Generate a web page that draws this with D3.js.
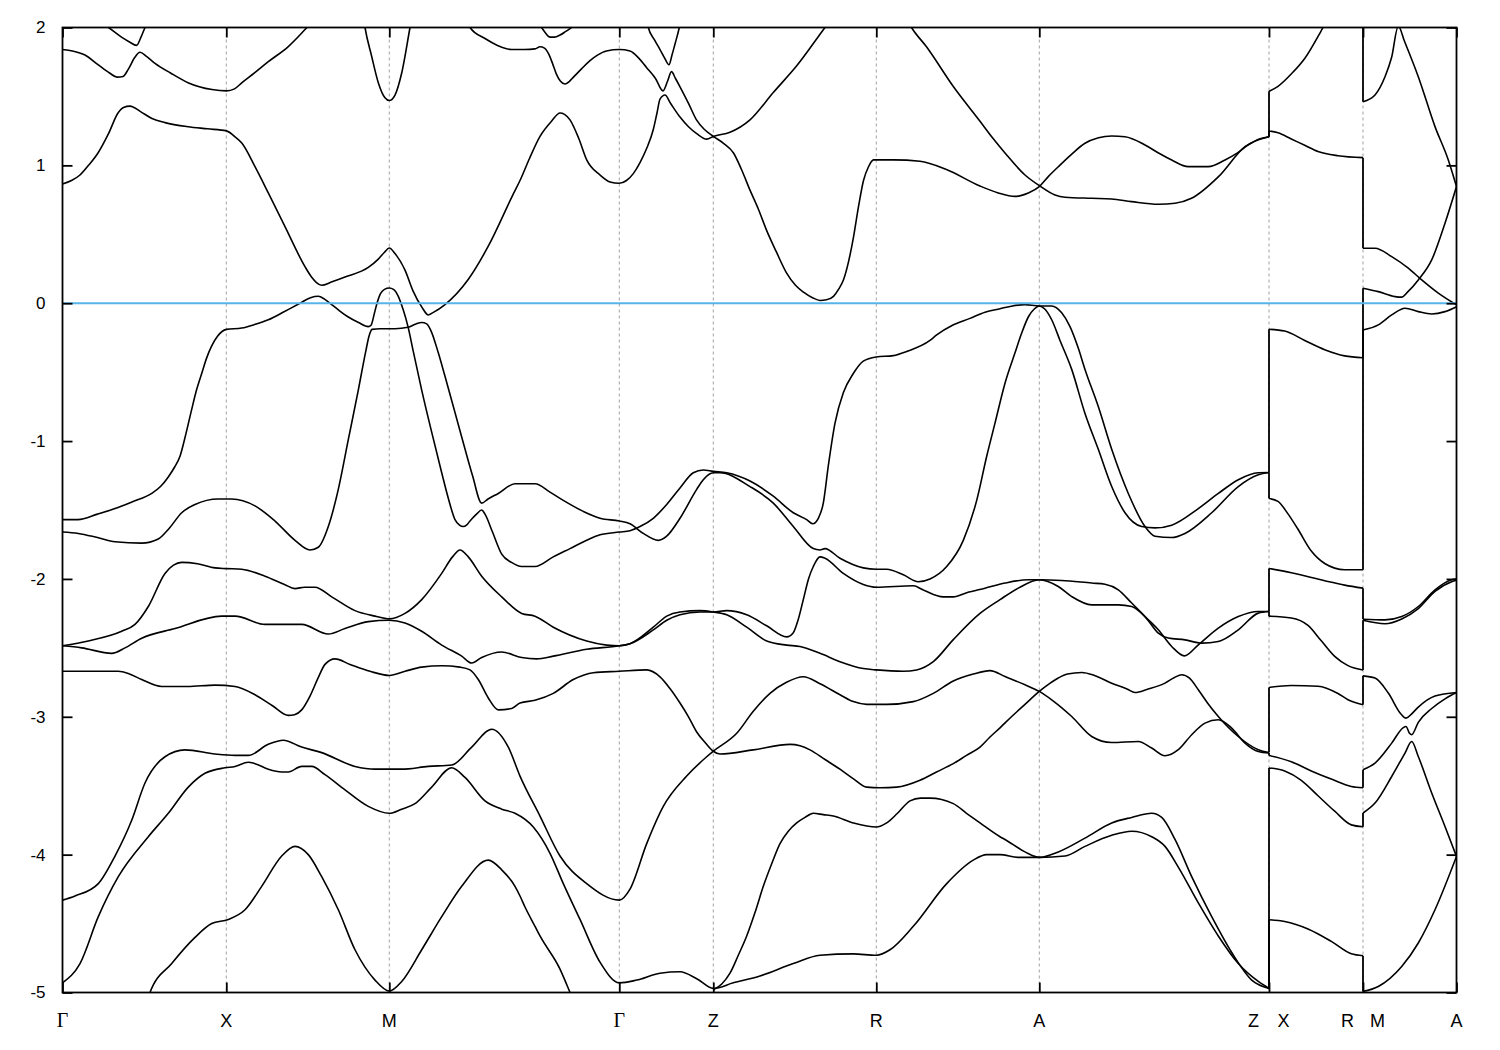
<!DOCTYPE html>
<html><head><meta charset="utf-8">
<script src="https://cdnjs.cloudflare.com/ajax/libs/d3/7.8.5/d3.min.js"></script>
<style>body{margin:0;background:#fff;} svg{display:block;}</style>
</head><body>
<svg id="chart" width="1500" height="1050"></svg>
<script>
// ---------- axis data ----------
const kTicks = [0, 163.8, 326.8, 556.8, 650.8, 813.8, 976.8, 1206.5, 1300.5, 1394];
const tickLabels = ["Γ", "X", "M", "Γ", "Z", "R", "A", "Z|X", "R|M", "A"];
const yTicks = [2, 1, 0, -1, -2, -3, -4, -5];
const eMin = -5, eMax = 2;
const fermiLevel = 0;
const breaks = [1206.5, 1300.5];

// ---------- bands, segment Γ-X-M-Γ-Z-R-A-Z ----------
const bT1 = [[30,2.08],[46,2.0],[59,1.93],[67,1.895],[74,1.87],[78.5,1.93],[82.5,2.0],[86,2.06]];
const bT2 = [[0,1.84],[10,1.83],[22.5,1.80],[35.5,1.73],[47,1.67],[54.5,1.64],[60.5,1.645],[66,1.70],[72,1.78],[77.5,1.82],[84,1.79],[92.5,1.74],[108,1.67],[125.5,1.60],[149.5,1.55],[164,1.54],[172,1.555],[179.5,1.60],[192,1.67],[205.5,1.75],[225.5,1.86],[244.5,2.0],[258,2.1]];
const bT3 = [[0,0.865],[9,0.89],[17.5,0.93],[26,1.0],[35.5,1.09],[46,1.23],[55.5,1.38],[61,1.42],[67.5,1.43],[78,1.39],[89.5,1.34],[102.5,1.31],[125.5,1.28],[145,1.265],[164,1.25],[172,1.21],[179.5,1.16],[192.5,0.99],[205.8,0.80],[222.5,0.555],[242.5,0.265],[249,0.19],[254,0.15],[259,0.13],[269.5,0.155],[282.5,0.19],[305.8,0.26],[315.8,0.32],[322,0.37],[326.8,0.40],[332.5,0.36],[342.5,0.24],[350.5,0.09],[359.5,-0.03],[365.8,-0.085],[370,-0.07],[382.5,-0.01],[405.5,0.17],[425.5,0.41],[450,0.78],[457.5,0.89],[467,1.05],[477.5,1.21],[489,1.32],[497.5,1.38],[502,1.37],[507.5,1.33],[516,1.20],[524.2,1.04],[537.5,0.93],[547.5,0.88],[556.8,0.87],[564,0.89],[570.8,0.94],[577.5,1.02],[584,1.12],[590.8,1.26],[594.5,1.38],[597.5,1.48],[602.5,1.51],[608,1.45],[617.5,1.35],[626,1.28],[634.2,1.23],[644.2,1.19],[650.8,1.21],[667.5,1.24],[687.5,1.33],[711,1.53],[734,1.72],[762.5,2.0],[775,2.12]];
const bQ = [[400,2.12],[407.5,2.0],[422.5,1.92],[435,1.87],[449,1.84],[462,1.84],[472.5,1.845],[477.5,1.86],[482,1.85],[486,1.81],[490,1.74],[494,1.66],[498,1.61],[502.5,1.59],[507,1.61],[511,1.64],[519,1.70],[527.5,1.76],[535,1.80],[544,1.83],[556.8,1.84],[567.5,1.83],[576,1.78],[584,1.71],[593,1.63],[600.5,1.54],[605,1.61],[609,1.68],[613,1.63],[617.5,1.57],[626,1.45],[634,1.33],[642,1.26],[650.8,1.21],[661,1.16],[671,1.09],[679,0.97],[687.5,0.82],[696,0.68],[704,0.53],[714,0.37],[724,0.22],[733,0.13],[741,0.08],[750,0.04],[757.5,0.02],[764,0.025],[771,0.05],[776,0.10],[781,0.17],[786,0.30],[791,0.48],[796,0.70],[801,0.89],[806,0.99],[811,1.04],[831,1.04],[857.5,1.03],[884,0.97],[917.5,0.85],[935.8,0.80],[952.5,0.775],[965.8,0.80],[976.8,0.846],[986,0.92],[995.8,0.99],[1009,1.08],[1022.5,1.16],[1036,1.20],[1049.2,1.213],[1062.5,1.208],[1082.5,1.148],[1096,1.09],[1109.2,1.039],[1125.8,0.991],[1145.8,0.991],[1162.5,1.039],[1175,1.09],[1185.8,1.148],[1196,1.19],[1206.5,1.208]];
const bP = [[583,2.1],[585.8,2.0],[592,1.91],[597.5,1.84],[602,1.78],[606.5,1.73],[609.5,1.80],[612.5,1.88],[616.8,2.0],[619,2.08]];
const bTop2 = [[474,2.04],[479,2.0],[483,1.96],[487.5,1.93],[492,1.93],[497.5,1.945],[503,1.97],[509,2.0],[514,2.04]];
const bMtop = [[300,2.12],[302.5,2.0],[309.2,1.79],[315.8,1.60],[322.5,1.49],[326.8,1.47],[332.5,1.51],[339.2,1.67],[347.5,2.0],[350,2.1]];
const bTR = [[840,2.12],[849,2.0],[864,1.86],[891,1.57],[917.5,1.32],[930,1.20],[942.5,1.09],[962.5,0.93],[976.8,0.853],[992.5,0.785],[1002.5,0.769],[1029,0.761],[1049,0.756],[1069,0.737],[1096,0.718],[1112.5,0.725],[1129,0.761],[1156,0.918],[1182.5,1.136],[1206.5,1.208]];
const bV1 = [[0,-1.57],[15.5,-1.57],[35,-1.53],[52.5,-1.49],[70,-1.44],[89.2,-1.38],[98,-1.33],[105.8,-1.26],[112,-1.19],[117.5,-1.11],[123,-0.96],[129.2,-0.77],[134,-0.63],[139.2,-0.51],[144,-0.40],[149.2,-0.31],[155,-0.24],[163.8,-0.19],[179.2,-0.18],[192,-0.155],[205.8,-0.12],[222,-0.06],[237.5,0.0],[248,0.04],[255.8,0.05],[262,0.03],[269.2,-0.01],[277,-0.055],[285.8,-0.10],[296,-0.14],[305.8,-0.17],[308.5,-0.16],[312,-0.07],[314.5,0.0],[318,0.07],[322,0.10],[326.8,0.11],[331,0.10],[335.8,0.05],[340.8,-0.05],[345.5,-0.17],[350.5,-0.34],[359.2,-0.63],[369,-0.93],[379.2,-1.23],[386,-1.42],[392.5,-1.57],[397,-1.61],[400.8,-1.62],[404,-1.61],[407.5,-1.58],[414,-1.53],[419.2,-1.50],[422.5,-1.53],[430,-1.66],[439.2,-1.82],[449,-1.88],[459.2,-1.91],[472.5,-1.91],[490.8,-1.84],[507.5,-1.78],[524.2,-1.72],[537.5,-1.68],[556.8,-1.66],[567.5,-1.65],[577.5,-1.62],[590.8,-1.56],[604.2,-1.46],[617.5,-1.34],[630.8,-1.23],[640.8,-1.21],[650.8,-1.22],[664.2,-1.23],[687.5,-1.29],[710.8,-1.40],[730.8,-1.52],[744.2,-1.57],[750.2,-1.60],[755.8,-1.56],[760.8,-1.45],[765.8,-1.18],[772.5,-0.87],[780.8,-0.65],[790.8,-0.51],[800.8,-0.42],[813.8,-0.39],[830.8,-0.38],[844.2,-0.35],[867.5,-0.27],[874.2,-0.23],[890,-0.16],[907.5,-0.11],[922.5,-0.065],[937.5,-0.04],[950,-0.02],[962.5,-0.01],[976.8,-0.02],[989.2,-0.02],[999.2,-0.07],[1007.5,-0.17],[1015.5,-0.32],[1022.5,-0.48],[1035.8,-0.75],[1049.2,-1.06],[1065.8,-1.38],[1082.5,-1.62],[1092.5,-1.69],[1109.2,-1.70],[1122.5,-1.67],[1149.2,-1.52],[1175.8,-1.33],[1195.8,-1.245],[1206.5,-1.228]];
const bVb = [[0,-1.66],[15.8,-1.67],[35,-1.70],[52.5,-1.73],[79.2,-1.74],[95.8,-1.71],[107,-1.63],[119.2,-1.52],[132.5,-1.46],[155.8,-1.42],[169.2,-1.42],[192.5,-1.47],[212.5,-1.58],[232.5,-1.72],[247.5,-1.79],[255.8,-1.77],[265.8,-1.62],[275.8,-1.35],[285.8,-0.99],[295.8,-0.63],[303.5,-0.34],[306.5,-0.24],[309.5,-0.19],[317.5,-0.185],[332.5,-0.185],[345.5,-0.175],[353.5,-0.15],[359.2,-0.14],[364.2,-0.15],[368.5,-0.20],[375.8,-0.36],[382.5,-0.53],[399.2,-0.97],[410,-1.25],[419.2,-1.45],[425.5,-1.42],[435.8,-1.38],[452.5,-1.31],[472.5,-1.31],[487.5,-1.37],[500.8,-1.43],[520.8,-1.51],[537.5,-1.56],[556.8,-1.58],[567.5,-1.60],[580.8,-1.67],[595.8,-1.72],[604.2,-1.69],[617.5,-1.56],[634.2,-1.35],[640.8,-1.28],[650.8,-1.23],[657.5,-1.23],[687.5,-1.33],[710.8,-1.45],[730.8,-1.62],[750.8,-1.78],[757.5,-1.79],[762.5,-1.78],[777.5,-1.85],[800.8,-1.92],[813.8,-1.93],[824.2,-1.93],[840.8,-1.97],[855.8,-2.02],[867.5,-2.00],[884.2,-1.91],[900.8,-1.72],[914.2,-1.43],[924.2,-1.11],[932.5,-0.87],[942.5,-0.58],[952.5,-0.36],[959,-0.22],[965.8,-0.10],[972,-0.04],[976.8,-0.02],[982,-0.04],[989.2,-0.12],[997.5,-0.27],[1009.2,-0.48],[1022.5,-0.80],[1035.8,-1.06],[1049.2,-1.33],[1062.5,-1.52],[1079.2,-1.62],[1092.5,-1.63],[1109.2,-1.61],[1135.8,-1.49],[1155.8,-1.38],[1175.8,-1.28],[1195.8,-1.23],[1206.5,-1.228]];
const bC = [[0,-2.485],[25.8,-2.45],[59.2,-2.38],[72.5,-2.33],[85.8,-2.20],[102.5,-1.96],[111,-1.90],[119.2,-1.88],[135,-1.89],[152.5,-1.92],[163.8,-1.925],[179.2,-1.93],[202.5,-1.98],[222,-2.04],[232.5,-2.07],[242,-2.06],[252.5,-2.06],[269.2,-2.13],[292.5,-2.23],[312.5,-2.27],[326.8,-2.29],[342.5,-2.25],[359.2,-2.15],[379.2,-1.96],[390,-1.84],[397.5,-1.79],[405.8,-1.84],[419.2,-1.98],[439.2,-2.13],[459.2,-2.25],[472.5,-2.27],[490.8,-2.35],[524.2,-2.45],[544.2,-2.48],[556.8,-2.485],[567.5,-2.47],[590.8,-2.37],[604.2,-2.30],[617.5,-2.26],[637.5,-2.24],[650.8,-2.24],[664.2,-2.23],[684.2,-2.26],[704.2,-2.34],[724.2,-2.42],[730.8,-2.39],[735.5,-2.30],[740.8,-2.15],[746,-2.00],[750.8,-1.91],[757.5,-1.84],[762.5,-1.85],[780.8,-1.96],[800.8,-2.04],[813.8,-2.06],[850.8,-2.05],[860.8,-2.08],[880.8,-2.13],[890.8,-2.13],[904.2,-2.10],[922.5,-2.067],[942.5,-2.03],[965.8,-2.006],[976.8,-2.006],[999.2,-2.011],[1029.2,-2.03],[1042.5,-2.038],[1055.8,-2.079],[1069.2,-2.175],[1082.5,-2.273],[1095.8,-2.369],[1109.2,-2.49],[1121.8,-2.558],[1135.8,-2.478],[1155.8,-2.357],[1175.8,-2.273],[1195.8,-2.236],[1206.5,-2.236]];
const bD = [[0,-2.485],[19.2,-2.50],[49.2,-2.54],[62.5,-2.50],[79.2,-2.43],[112.5,-2.36],[159.2,-2.27],[172.5,-2.27],[202.5,-2.33],[239.2,-2.33],[265.8,-2.40],[282.5,-2.36],[305.8,-2.31],[326.8,-2.30],[342.5,-2.32],[359.2,-2.38],[379.2,-2.48],[399.2,-2.56],[409.2,-2.61],[419.2,-2.57],[439.2,-2.53],[459.2,-2.57],[474.2,-2.58],[490.8,-2.56],[524.2,-2.51],[556.8,-2.485],[567.5,-2.47],[590.8,-2.35],[604.2,-2.27],[617.5,-2.24],[637.5,-2.23],[650.8,-2.24],[664.2,-2.26],[684.2,-2.35],[704.2,-2.45],[724.2,-2.48],[737.5,-2.49],[757.5,-2.54],[777.5,-2.60],[800.8,-2.65],[813.8,-2.66],[840.8,-2.67],[854.2,-2.66],[870.8,-2.60],[890.8,-2.44],[917.5,-2.25],[937.5,-2.15],[955.8,-2.067],[976.8,-2.006],[995.8,-2.055],[1009.2,-2.128],[1029.2,-2.188],[1055.8,-2.188],[1069.2,-2.20],[1082.5,-2.273],[1095.8,-2.393],[1105.8,-2.429],[1122.5,-2.442],[1139.2,-2.466],[1155.8,-2.454],[1175.8,-2.369],[1195.8,-2.248],[1206.5,-2.236]];
const bE = [[0,-2.67],[55.8,-2.67],[67,-2.69],[79.2,-2.73],[99.2,-2.78],[125,-2.78],[152.5,-2.77],[172.5,-2.78],[192.5,-2.84],[210,-2.92],[225.8,-2.99],[232,-2.985],[239.2,-2.95],[247.5,-2.85],[255.5,-2.72],[262.5,-2.62],[272.5,-2.58],[287.5,-2.62],[307.5,-2.67],[326.8,-2.70],[342.5,-2.67],[359.2,-2.64],[379.2,-2.63],[397.5,-2.64],[407.5,-2.66],[415.8,-2.73],[425.5,-2.86],[435.8,-2.95],[449.2,-2.94],[457.5,-2.90],[472.5,-2.88],[490.8,-2.83],[510.8,-2.73],[530.8,-2.68],[556.8,-2.67],[584.2,-2.66],[597.5,-2.71],[608,-2.80],[617.5,-2.90],[626,-3.00],[634.2,-3.11],[643,-3.19],[650.8,-3.25],[657.5,-3.27],[690.8,-3.24],[727.5,-3.20],[737.5,-3.21],[747.5,-3.24],[762.5,-3.31],[777.5,-3.38],[791,-3.45],[804.2,-3.51],[817.5,-3.515],[834.2,-3.51],[857.5,-3.46],[874,-3.40],[890.8,-3.34],[904,-3.28],[917.5,-3.22],[927,-3.15],[937.5,-3.08],[949.2,-2.998],[962.5,-2.91],[976.8,-2.816],[987,-2.76],[995.8,-2.719],[1005,-2.69],[1019.2,-2.679],[1032,-2.70],[1049.2,-2.756],[1065,-2.80],[1072.5,-2.824],[1085,-2.80],[1102.5,-2.756],[1112,-2.715],[1119.2,-2.695],[1127,-2.72],[1135.8,-2.804],[1145,-2.90],[1155.8,-2.998],[1175.8,-3.143],[1195.8,-3.239],[1206.5,-3.259]];
const bF = [[0,-4.33],[12.5,-4.30],[35.8,-4.21],[52.5,-4.01],[69.2,-3.75],[82.5,-3.48],[102.5,-3.29],[122.5,-3.24],[152.5,-3.27],[172.5,-3.28],[185.8,-3.28],[205.8,-3.20],[220.8,-3.17],[239.2,-3.22],[259.2,-3.26],[292.5,-3.36],[312.5,-3.38],[339.2,-3.38],[365.8,-3.36],[389.2,-3.35],[409.2,-3.22],[429.2,-3.09],[445.8,-3.22],[457.5,-3.43],[477.5,-3.72],[497.5,-4.01],[524.2,-4.21],[556.8,-4.33],[567.5,-4.25],[584.2,-3.92],[600.8,-3.65],[624.2,-3.43],[644.2,-3.29],[650.8,-3.25],[674.2,-3.12],[690.8,-2.96],[707.5,-2.83],[724,-2.75],[740.8,-2.71],[757.5,-2.76],[777.5,-2.84],[790.8,-2.89],[804.2,-2.91],[824.2,-2.91],[850.8,-2.89],[870.8,-2.83],[890.8,-2.74],[910.8,-2.69],[927.5,-2.665],[942.5,-2.708],[962.5,-2.768],[976.8,-2.816],[989.2,-2.877],[1009.2,-2.998],[1029.2,-3.143],[1049.2,-3.187],[1075.8,-3.179],[1089.2,-3.227],[1102.5,-3.283],[1115.8,-3.239],[1129.2,-3.130],[1142.5,-3.046],[1155.8,-3.022],[1169.2,-3.082],[1182.5,-3.191],[1195.8,-3.252],[1206.5,-3.263]];
const bG = [[0,-4.93],[17.5,-4.79],[35.8,-4.45],[55.8,-4.16],[85.8,-3.87],[105.8,-3.70],[125.8,-3.51],[142.5,-3.41],[162.5,-3.37],[172.5,-3.36],[185.8,-3.33],[192.5,-3.34],[205.8,-3.38],[219.2,-3.40],[225.8,-3.40],[239.2,-3.36],[249.2,-3.36],[262.5,-3.42],[282.5,-3.53],[305.8,-3.65],[326.8,-3.70],[339.2,-3.67],[352.5,-3.63],[369.2,-3.51],[389.2,-3.37],[402.5,-3.44],[422.5,-3.61],[439.2,-3.67],[452.5,-3.70],[470.8,-3.80],[487.5,-3.99],[500.8,-4.21],[517.5,-4.47],[537.5,-4.78],[556.8,-4.93],[574.2,-4.91],[597.5,-4.86],[617.5,-4.85],[634.2,-4.90],[650.8,-4.97],[670.8,-4.93],[697.5,-4.88],[730.8,-4.79],[757.5,-4.73],[790.8,-4.72],[813.8,-4.73],[827.5,-4.69],[850.8,-4.52],[884.2,-4.21],[910.8,-4.04],[924.2,-4.00],[937.5,-4.00],[955.8,-4.02],[976.8,-4.02],[1002.5,-4.01],[1022.5,-3.94],[1049.2,-3.86],[1069.2,-3.83],[1089.2,-3.87],[1102.5,-3.94],[1115.8,-4.09],[1135.8,-4.35],[1155.8,-4.59],[1175.8,-4.79],[1195.8,-4.92],[1206.5,-4.97]];
const bSteep = [[650.8,-4.98],[659,-4.94],[667.5,-4.86],[675.8,-4.73],[684.2,-4.59],[692.5,-4.42],[700.8,-4.23],[709,-4.07],[717.5,-3.92],[725.8,-3.83],[734.2,-3.77],[742.5,-3.73],[750.8,-3.70],[760.8,-3.71],[770.8,-3.72],[790.8,-3.77],[813.8,-3.80],[824.2,-3.77],[835,-3.70],[847.5,-3.61],[858,-3.59],[867.5,-3.59],[890.8,-3.63],[904,-3.70],[917.5,-3.77],[937.5,-3.87],[942.5,-3.89],[962.5,-3.98],[976.8,-4.02],[995.8,-3.98],[1022.5,-3.88],[1049.2,-3.77],[1069.2,-3.73],[1089.2,-3.70],[1099.2,-3.73],[1112.5,-3.89],[1129.2,-4.16],[1149.2,-4.45],[1169.2,-4.71],[1189.2,-4.91],[1206.5,-4.97]];
const bH = [[84,-5.1],[87.5,-5.0],[109.2,-4.79],[132.5,-4.60],[149.2,-4.50],[165.8,-4.47],[182.5,-4.40],[199.2,-4.23],[219.2,-4.01],[232.5,-3.94],[245.8,-4.00],[259.2,-4.16],[275.8,-4.40],[292.5,-4.69],[312.5,-4.91],[326.8,-4.99],[339.2,-4.92],[359.2,-4.69],[379.2,-4.45],[399.2,-4.23],[425.8,-4.04],[439.2,-4.11],[452.5,-4.23],[457.5,-4.30],[462.5,-4.38],[472.5,-4.52],[477.5,-4.59],[497.5,-4.83],[507.5,-5.0],[512,-5.08]];

// ---------- bands, segment X-R ----------
const x2a = [[1206.5,1.537],[1215.5,1.573],[1228.8,1.663],[1242.2,1.775],[1258.8,1.978],[1262,2.02],[1280,2.3],[1300.5,2.5]];
const x2b = [[1206.5,1.249],[1215.5,1.236],[1228.8,1.191],[1242.2,1.146],[1255.5,1.101],[1275.5,1.07],[1300.5,1.056]];
const x2c = [[1206.5,-0.189],[1222.2,-0.202],[1242.2,-0.270],[1262.2,-0.337],[1282.2,-0.382],[1300.5,-0.396]];
const x2d = [[1206.5,-1.416],[1215.5,-1.438],[1225.5,-1.528],[1235.5,-1.640],[1248.8,-1.798],[1262.2,-1.888],[1282.2,-1.933],[1300.5,-1.933]];
const x2e = [[1206.5,-1.924],[1228.8,-1.955],[1262.2,-2.013],[1282.2,-2.045],[1300.5,-2.067]];
const x2f = [[1206.5,-2.270],[1228.8,-2.283],[1245.5,-2.337],[1258.8,-2.449],[1272.2,-2.562],[1285.5,-2.629],[1300.5,-2.661]];
const x2g = [[1206.5,-2.787],[1228.8,-2.773],[1255.5,-2.778],[1275.5,-2.831],[1285.5,-2.876],[1300.5,-2.912]];
const x2h = [[1206.5,-3.281],[1228.8,-3.326],[1248.8,-3.393],[1268.8,-3.452],[1288.8,-3.506],[1300.5,-3.515]];
const x2i = [[1206.5,-3.371],[1222.2,-3.393],[1238.8,-3.461],[1255.5,-3.573],[1272.2,-3.685],[1288.8,-3.784],[1300.5,-3.798]];
const x2j = [[1206.5,-4.472],[1222.2,-4.485],[1245.5,-4.539],[1268.8,-4.629],[1288.8,-4.719],[1300.5,-4.733]];

// ---------- bands, segment M-A ----------
const m3a = [[1300.5,1.462],[1312.5,1.511],[1322.5,1.643],[1329,1.78],[1335.8,2.01],[1342,1.90],[1355.8,1.643],[1372.5,1.281],[1385.8,1.039],[1394,0.846]];
const m3b = [[1300.5,0.399],[1312.5,0.399],[1329.2,0.338],[1345.8,0.254],[1359.2,0.169],[1375.8,0.073],[1394,-0.012]];
const m3c = [[1300.5,0.109],[1315.8,0.084],[1332.5,0.048],[1339.2,0.044],[1345,0.08],[1355.8,0.169],[1369.2,0.314],[1382.5,0.58],[1394,0.846]];
const m3d = [[1300.5,-0.194],[1315.8,-0.157],[1329.2,-0.085],[1342.5,-0.036],[1355.8,-0.061],[1369.2,-0.078],[1382.5,-0.061],[1394,-0.025]];
const m3e = [[1300.5,-2.292],[1322.5,-2.297],[1339.2,-2.273],[1355.8,-2.20],[1372.5,-2.079],[1389.2,-2.006],[1394,-2.001]];
const m3f = [[1300.5,-2.30],[1322.5,-2.325],[1339.2,-2.29],[1355.8,-2.215],[1372.5,-2.09],[1389.2,-2.02],[1394,-2.01]];
const m3g = [[1300.5,-2.703],[1312.5,-2.719],[1325.8,-2.828],[1338.5,-2.98],[1343.5,-3.01],[1349,-2.98],[1355.8,-2.93],[1372.5,-2.85],[1394,-2.824]];
const m3h = [[1300.5,-3.384],[1312.5,-3.336],[1329.2,-3.191],[1340.5,-3.08],[1343.5,-3.07],[1347,-3.12],[1349.2,-3.13],[1355.8,-3.04],[1369.2,-2.94],[1382.5,-2.87],[1394,-2.824]];
const m3i = [[1300.5,-3.698],[1312.5,-3.626],[1329.2,-3.433],[1342.5,-3.263],[1349.2,-3.179],[1355.8,-3.288],[1369.2,-3.553],[1382.5,-3.796],[1394,-4.013]];
const m3j = [[1300.5,-4.992],[1315.8,-4.956],[1339.2,-4.811],[1355.8,-4.641],[1372.5,-4.40],[1394,-4.013]];

const segment1 = [bT1,bT2,bT3,bQ,bP,bTop2,bMtop,bTR,bV1,bVb,bC,bD,bE,bF,bG,bSteep,bH];
const segment2 = [x2a,x2b,x2c,x2d,x2e,x2f,x2g,x2h,x2i,x2j];
const segment3 = [m3a,m3b,m3c,m3d,m3e,m3f,m3g,m3h,m3i,m3j];
const segments = [segment1, segment2, segment3];

// ---------- drawing ----------
const svg = d3.select("#chart");
const L = 62.5, R = 1456.5, T = 27.5, B = 992.5;
const x = d3.scaleLinear().domain([kTicks[0], kTicks[kTicks.length - 1]]).range([L, R]);
const y = d3.scaleLinear().domain([eMin, eMax]).range([B, T]);

svg.append("rect").attr("width", 1500).attr("height", 1050).attr("fill", "#fff");
svg.append("defs").append("clipPath").attr("id", "plotclip")
  .append("rect").attr("x", L).attr("y", T).attr("width", R - L).attr("height", B - T);

// grid
svg.append("g").selectAll("line").data(kTicks).join("line")
  .attr("x1", d => x(d)).attr("x2", d => x(d))
  .attr("y1", T).attr("y2", B)
  .attr("stroke", "#a0a0a0").attr("stroke-width", 1)
  .attr("stroke-dasharray", "3,3");

const bandLine = d3.line().x(d => x(d[0])).y(d => y(d[1])).curve(d3.curveMonotoneX);
const gB = svg.append("g").attr("clip-path", "url(#plotclip)");
segments.forEach(seg => {
  gB.selectAll(null).data(seg).join("path")
    .attr("d", bandLine)
    .attr("fill", "none").attr("stroke", "#000")
    .attr("stroke-width", 1.6).attr("stroke-linejoin", "round");
});

// vertical connectors at discontinuities (band index order)
breaks.forEach((kb, i) => {
  const ends = segments[i].filter(b => b[b.length - 1][0] === kb).map(b => b[b.length - 1][1]).sort((a, b) => a - b);
  const starts = segments[i + 1].filter(b => b[0][0] === kb).map(b => b[0][1]).sort((a, b) => a - b);
  const n = Math.min(ends.length, starts.length);
  const pairs = d3.range(n).map(j => [ends[j], starts[j]]);
  gB.append("g").selectAll("line").data(pairs).join("line")
    .attr("x1", x(kb)).attr("x2", x(kb))
    .attr("y1", d => y(d[0])).attr("y2", d => y(d[1]))
    .attr("stroke", "#000").attr("stroke-width", 1.8);
});

// Fermi level
svg.append("line")
  .attr("x1", L).attr("x2", R).attr("y1", y(fermiLevel)).attr("y2", y(fermiLevel))
  .attr("stroke", "#56b4e9").attr("stroke-width", 2);

// frame
svg.append("rect").attr("x", L).attr("y", T).attr("width", R - L).attr("height", B - T)
  .attr("fill", "none").attr("stroke", "#000").attr("stroke-width", 1.8);

// axes (inward ticks)
const styleAxis = g => {
  g.select(".domain").remove();
  g.selectAll(".tick line").attr("stroke", "#000").attr("stroke-width", 1.8);
  g.selectAll("text").attr("font-family", "'Liberation Sans', Arial, sans-serif")
    .attr("font-size", 17).attr("fill", "#000");
};
svg.append("g").attr("transform", `translate(${L},0)`)
  .call(d3.axisLeft(y).tickValues(yTicks).tickSize(-10).tickSizeOuter(0).tickPadding(17).tickFormat(d => String(d)))
  .call(styleAxis);
svg.append("g").attr("transform", `translate(${R},0)`)
  .call(d3.axisRight(y).tickValues(yTicks).tickSize(-10).tickSizeOuter(0).tickFormat(""))
  .call(styleAxis);
svg.append("g").attr("transform", `translate(0,${T})`)
  .call(d3.axisTop(x).tickValues(kTicks).tickSize(-10).tickSizeOuter(0).tickFormat(""))
  .call(styleAxis);
svg.append("g").attr("transform", `translate(0,${B})`)
  .call(d3.axisBottom(x).tickValues(kTicks).tickSize(-10).tickSizeOuter(0).tickFormat(""))
  .call(styleAxis);

// k-point labels
const labelData = [];
kTicks.forEach((k, i) => {
  const parts = tickLabels[i].split("|");
  if (parts.length === 1) labelData.push({ px: x(k), t: parts[0] });
  else { labelData.push({ px: x(k) - 15.5, t: parts[0] }); labelData.push({ px: x(k) + 14.5, t: parts[1] }); }
});
svg.append("g").selectAll("text").data(labelData).join("text")
  .attr("x", d => d.px).attr("y", 1027)
  .attr("text-anchor", "middle")
  .attr("font-family", d => d.t === "Γ" ? "'Liberation Serif', 'Times New Roman', serif" : "'Liberation Sans', Arial, sans-serif")
  .attr("font-size", d => d.t === "Γ" ? 20 : 18)
  .attr("fill", "#000")
  .text(d => d.t);
</script>
</body></html>
